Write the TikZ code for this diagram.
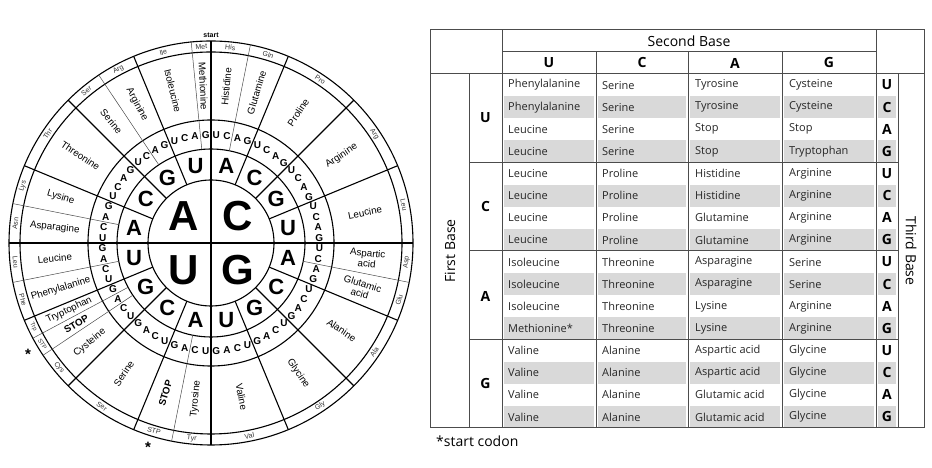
\documentclass[tikz,border=0pt]{standalone}
\usepackage{fontspec}
\setmainfont{Liberation Sans}
\newfontfamily\tabfont{Open Sans}
\begin{document}
\begin{tikzpicture}[x=1pt,y=1pt,
  thk/.style={line width=1.1pt,black},
  thn/.style={line width=0.5pt,black!70},
  aa/.style={font=\fontsize{9.8}{10.5}\selectfont,align=center,inner sep=0pt},
  abb/.style={font=\fontsize{7}{7}\selectfont,inner sep=0pt,black!80},
  cod/.style={font=\bfseries\fontsize{10}{10}\selectfont,inner sep=0pt},
  tline/.style={line width=1pt,black!70},
  cell/.style={font=\tabfont\fontsize{11}{12}\selectfont,anchor=west,inner sep=0pt,text=black!85},
  hd/.style={font=\tabfont\bfseries\fontsize{14}{14}\selectfont,inner sep=0pt},
  shade/.style={fill=black!15,draw=none}]
\useasboundingbox (0,0) rectangle (932,468);
\fill[white] (0,0) rectangle (932,468);
% ---------- wheel ----------
\begin{scope}[shift={(211,225)}]
\foreach \r in {202,191,123,94,63} \draw[thk] (0,0) circle (\r);
\draw[thk] (-202,0) -- (202,0);
\draw[thk] (0,-202) -- (0,202);
\foreach \k in {1,2,3,5,6,7,9,10,11,13,14,15}
  \draw[thk] ({90-22.5*\k}:63) -- ({90-22.5*\k}:202);
\foreach \k in {2,18,34,42,43,46,50,58,63}
  \draw[thn] ({90-5.625*\k}:94) -- ({90-5.625*\k}:202);
\foreach \k in {0,...,63}{
  \pgfmathtruncatemacro\q{mod(\k,4)}
  \node[cod] (cd\k) at ({90-5.625*(\k+0.5)}:108.5) {\ifcase\q U\or C\or A\or G\fi};}
\foreach \j in {0,...,15}{
  \pgfmathtruncatemacro\q{mod(\j,4)}
  \node[font=\bfseries\fontsize{22}{22}\selectfont,inner sep=0pt] (sb\j) at ({90-22.5*(\j+0.5)}:78.5) {\ifcase\q A\or C\or G\or U\fi};}
\foreach \a/\L in {45/C,-45/G,-135/U,135/A}
  \node[font=\bfseries\fontsize{42}{42}\selectfont,inner sep=0pt] (fb\L) at (\a:38) {\L};
\foreach \a/\b/\nm/\ab/\fs in {0/2/Histidine/His/7,2/4/Glutamine/Gln/7,4/8/Proline/Pro/7,8/12/Arginine/Arg/7,12/16/Leucine/Leu/7,
  16/18/{Aspartic\\acid}/Asp/7,18/20/{Glutamic\\acid}/Glu/7,20/24/Alanine/Ala/7,24/28/Glycine/Gly/7,28/32/Valine/Val/7,
  32/34/Tyrosine/Tyr/7,34/36/\textbf{STOP}/STP/7,36/40/Serine/Ser/7,40/42/Cysteine/Cys/7,42/43/\textbf{STOP}/STP/6,43/44/Tryptophan/Trp/6,
  44/46/Phenylalanine/Phe/7,46/48/Leucine/Leu/7,48/50/Asparagine/Asn/7,50/52/Lysine/Lys/7,52/56/Threonine/Thr/7,
  56/58/Serine/Ser/7,58/60/Arginine/Arg/7,60/63/Isoleucine/Ile/7,63/64/Methionine/Met/7}{
  \pgfmathsetmacro\m{90-5.625*(\a+\b)/2}
  \pgfmathsetmacro\ra{ifthenelse(\m>-90,\m,\m+180)}
  \pgfmathsetmacro\rb{ifthenelse(and(\m<0,\m>-180),\m+90,\m-90)}
  \node[aa,rotate=\ra] (aa\a) at (\m:157) {\nm};
  \node[abb,font=\fontsize{\fs}{\fs}\selectfont,rotate=\rb] (ab\a) at (\m:196.5) {\ab};}
\end{scope}
\node[font=\bfseries\fontsize{7}{7}\selectfont,inner sep=0pt] (start) at (211,433) {start};
\node[font=\bfseries\fontsize{15}{15}\selectfont,inner sep=0pt] (st1) at (28,114) {*};
\node[font=\bfseries\fontsize{15}{15}\selectfont,inner sep=0pt] (st2) at (148,21) {*};
% ---------- table ----------
\foreach \i/\p/\q/\s/\t/\tb in {
  0/Phenylalanine/Serine/Tyrosine/Cysteine/U,1/Phenylalanine/Serine/Tyrosine/Cysteine/C,2/Leucine/Serine/Stop/Stop/A,3/Leucine/Serine/Stop/Tryptophan/G,
  4/Leucine/Proline/Histidine/Arginine/U,5/Leucine/Proline/Histidine/Arginine/C,6/Leucine/Proline/Glutamine/Arginine/A,7/Leucine/Proline/Glutamine/Arginine/G,
  8/Isoleucine/Threonine/Asparagine/Serine/U,9/Isoleucine/Threonine/Asparagine/Serine/C,10/Isoleucine/Threonine/Lysine/Arginine/A,11/Methionine*/Threonine/Lysine/Arginine/G,
  12/Valine/Alanine/Aspartic acid/Glycine/U,13/Valine/Alanine/Aspartic acid/Glycine/C,14/Valine/Alanine/Glutamic acid/Glycine/A,15/Valine/Alanine/Glutamic acid/Glycine/G}{
  \pgfmathsetmacro\yt{394-22.125*\i}
  \pgfmathsetmacro\yc{\yt-11.06}
  \ifodd\i
    \foreach \xa/\xb in {504/594,598/686,690/780,784/874,878/896}
      \fill[shade] (\xa,\yt) rectangle (\xb,\yt-22.125);
  \fi
  \node[cell] (c\i a) at (508,\yc) {\p};
  \node[cell] (c\i b) at (602,\yc) {\q};
  \node[cell] (c\i c) at (695,\yc) {\s};
  \node[cell] (c\i d) at (789,\yc) {\t};
  \node[hd] (tb\i) at (887,\yc) {\tb};
}
\draw[tline] (430,40) rectangle (924,438);
\draw[tline] (430,394) -- (924,394);
\draw[tline] (502,416) -- (876,416);
\draw[tline] (502,40) -- (502,438);
\draw[tline] (876,40) -- (876,438);
\draw[tline] (469,40) -- (469,394);
\draw[tline] (898,40) -- (898,394);
\foreach \x in {596,688,782} \draw[tline] (\x,40) -- (\x,416);
\foreach \y in {305.5,217,128.5} \draw[tline] (469,\y) -- (898,\y);
\node[font=\tabfont\fontsize{14}{14}\selectfont,inner sep=0pt] (sbase) at (689,427) {Second Base};
\foreach \x/\L in {549/U,642/C,735/A,829/G} \node[hd] (h\L) at (\x,405) {\L};
\foreach \y/\L in {350/U,261/C,172/A,84/G} \node[hd] (f\L) at (485.5,\y) {\L};
\node[font=\tabfont\fontsize{14}{14}\selectfont,inner sep=0pt,rotate=90] (fbl) at (450,217) {First Base};
\node[font=\tabfont\fontsize{14}{14}\selectfont,inner sep=0pt,rotate=-90] (tbl) at (911,217) {Third Base};
\node[font=\tabfont\fontsize{14}{14}\selectfont,inner sep=0pt,anchor=west] (note) at (436,27) {*start codon};
\end{tikzpicture}
\end{document}
